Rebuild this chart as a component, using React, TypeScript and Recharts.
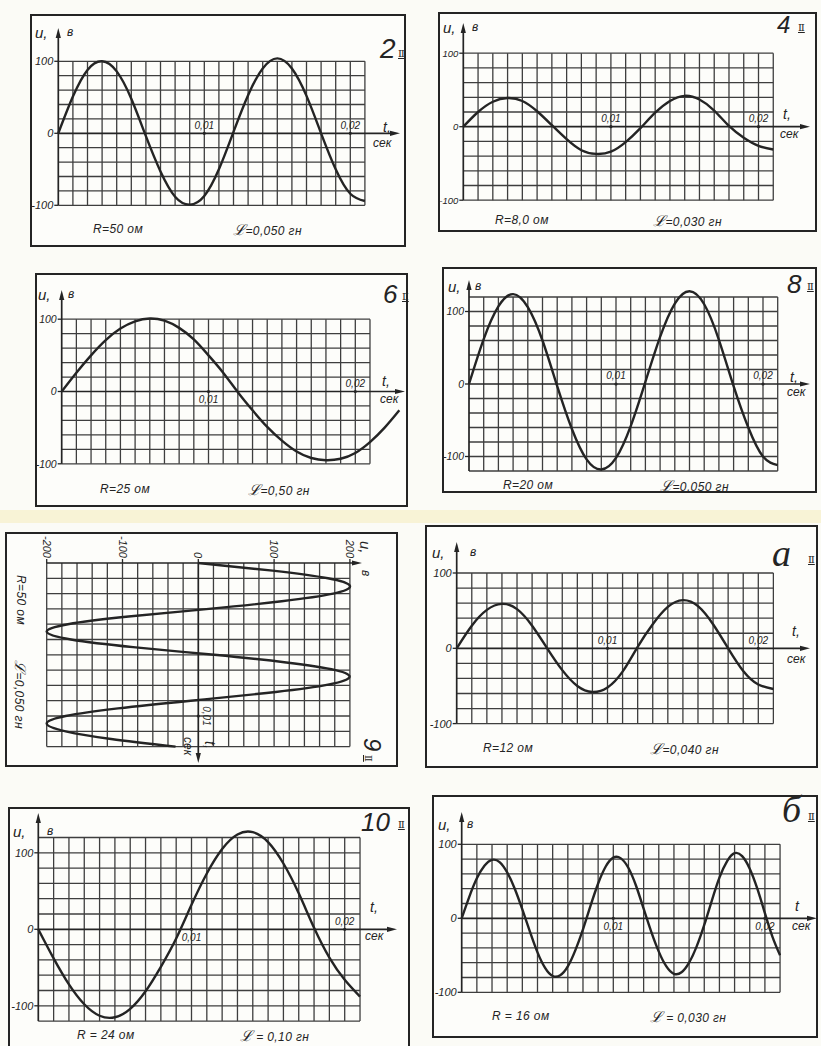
import { LineChart, Line, XAxis, YAxis, ReferenceLine, ReferenceDot } from "recharts";

const INK = "#242424";
const GRID = "#3e3e3e";
const SANS = "'Liberation Sans', 'DejaVu Sans', Arial, sans-serif";
const SERIF = "'Liberation Serif', 'DejaVu Serif', serif";

// time samples (seconds): one per grid column, and half-column samples
const T_MS = [0, 0.001, 0.002, 0.003, 0.004, 0.005, 0.006, 0.007, 0.008, 0.009, 0.01, 0.011, 0.012, 0.013, 0.014, 0.015, 0.016, 0.017, 0.018, 0.019, 0.02, 0.021, 0.022, 0.023];
const T_HALF = [0, 0.0005, 0.001, 0.0015, 0.002, 0.0025, 0.003, 0.0035, 0.004, 0.0045, 0.005, 0.0055, 0.006, 0.0065, 0.007, 0.0075, 0.008, 0.0085, 0.009, 0.0095, 0.01, 0.0105, 0.011, 0.0115, 0.012, 0.0125, 0.013, 0.0135, 0.014, 0.0145, 0.015, 0.0155, 0.016, 0.0165, 0.017, 0.0175, 0.018, 0.0185, 0.019, 0.0195, 0.02, 0.0205, 0.021];

// voltages, volts
const U_2 = [0, 51, 88, 100, 86, 48, -4, -53, -88, -99, -87, -50, 2, 53, 90, 104, 90, 52, 0, -50, -84, -94];
const U_4 = [0, 20, 34, 39, 35, 21, 2, -17, -32, -37, -34, -21, -2, 19, 35, 42, 37, 22, 1, -15, -26, -31];
const U_6 = [0, 26, 50, 71, 87, 97, 101, 98, 88, 72, 50, 26, -1, -26, -49, -68, -83, -92, -95, -93, -85, -70, -50, -26];
const U_8 = [0, 62, 107, 124, 106, 60, -3, -62, -104, -118, -102, -58, 3, 65, 111, 128, 110, 61, -3, -60, -100, -112];
const U_9 = [0, 98, 171, 200, 178, 110, 14, -92, -172, -200, -168, -86, 21, 116, 181, 199, 166, 90, -10, -106, -175, -200, -175, -115, -30];
const U_A = [0, 30, 51, 59, 52, 30, 0, -29, -50, -58, -52, -31, 2, 32, 55, 64, 56, 32, 0, -30, -48, -54];
const U_10 = [0, -38, -72, -98, -113, -115, -104, -81, -49, -12, 32, 73, 105, 124, 127, 114, 86, 47, 2, -37, -66, -88];
const U_B = [0, 29, 54, 71, 79, 76, 62, 40, 12, -18, -46, -67, -78, -77, -65, -43, -15, 17, 47, 70, 82, 81, 68, 44, 13, -18, -45, -65, -75, -73, -60, -38, -9, 24, 55, 77, 88, 84, 67, 40, 7, -25, -50];

const U_TICKS = [-100, 0, 100];
const U_TICKS_9 = [-200, -100, 0, 100, 200];

type Mark = { t: number; s: string; below?: boolean };
type Spec = {
  left: number; top: number; w: number; h: number; rotate?: boolean;
  x0: number; pxPerMs: number; gridMs: number; endPx: number;
  zeroY: number; pxPerV: number; gridTop: number; gridBot: number; arrowTopY: number;
  t: number[]; u: number[]; uTicks: number[]; marks: Mark[]; tickFont?: number;
  title: string; titleAt: [number, number]; titleSize: number; titleFont: string; romanAt: [number, number];
  r: string; l: string; rX: number; lX: number; rlY: number;
  uAt: [number, number]; vAt: [number, number]; tAt: [number, number]; secAt: [number, number]; tText: string;
};

const M1 = { t: 0.01, s: "0,01" };
const M2 = { t: 0.02, s: "0,02" };

const PANELS: Spec[] = [
  {
    left: 30, top: 14, w: 376, h: 233, x0: 28.3, pxPerMs: 14.6, gridMs: 21, endPx: 370,
    zeroY: 119.3, pxPerV: 0.72, gridTop: 100, gridBot: -100, arrowTopY: 14,
    t: T_MS, u: U_2, uTicks: U_TICKS, marks: [M1, M2],
    title: "2", titleAt: [350, 36], titleSize: 28, titleFont: SANS, romanAt: [368, 40],
    r: "R=50 ом", l: "=0,050 гн", rX: 63, lX: 203, rlY: 216,
    uAt: [5, 19], vAt: [37, 19], tAt: [353, 114], secAt: [343, 130], tText: "t,",
  },
  {
    left: 438, top: 12, w: 379, h: 220, x0: 25.3, pxPerMs: 14.76, gridMs: 21, endPx: 372,
    zeroY: 114.7, pxPerV: 0.735, gridTop: 100, gridBot: -100, arrowTopY: 11, tickFont: 9.5,
    t: T_MS, u: U_4, uTicks: U_TICKS, marks: [M1, M2],
    title: "4", titleAt: [339, 14], titleSize: 24, titleFont: SANS, romanAt: [360, 16],
    r: "R=8,0 ом", l: "=0,030 гн", rX: 57, lX: 215, rlY: 209,
    uAt: [5, 16], vAt: [34, 16], tAt: [345, 103], secAt: [342, 123], tText: "t,",
  },
  {
    left: 35, top: 273, w: 373, h: 234, x0: 26.7, pxPerMs: 14.68, gridMs: 21, endPx: 370,
    zeroY: 118.5, pxPerV: 0.723, gridTop: 100, gridBot: -100, arrowTopY: 17, tickFont: 10.5,
    t: T_MS, u: U_6, uTicks: U_TICKS, marks: [{ ...M1, below: true }, M2],
    title: "6", titleAt: [348, 22], titleSize: 26, titleFont: SANS, romanAt: [367, 24],
    r: "R=25 ом", l: "=0,50 гн", rX: 65, lX: 213, rlY: 217,
    uAt: [3, 22], vAt: [33, 22], tAt: [347, 109], secAt: [345, 127], tText: "t,",
  },
  {
    left: 442, top: 267, w: 375, h: 226, x0: 27, pxPerMs: 14.7, gridMs: 21, endPx: 368,
    zeroY: 117, pxPerV: 0.725, gridTop: 120, gridBot: -120, arrowTopY: 13, tickFont: 10.5,
    t: T_MS, u: U_8, uTicks: U_TICKS, marks: [M1, M2],
    title: "8", titleAt: [345, 18], titleSize: 26, titleFont: SANS, romanAt: [365, 20],
    r: "R=20 ом", l: "=0,050 гн", rX: 61, lX: 218, rlY: 219,
    uAt: [6, 20], vAt: [33, 20], tAt: [348, 111], secAt: [345, 126], tText: "t,",
  },
  {
    left: 84, top: 453, w: 235, h: 393, rotate: true, x0: 31, pxPerMs: 15.3, gridMs: 12, endPx: 231,
    zeroY: 199.7, pxPerV: 0.758, gridTop: 200, gridBot: -200, arrowTopY: 36,
    t: T_HALF, u: U_9, uTicks: U_TICKS_9, marks: [M1],
    title: "9", titleAt: [206, 27], titleSize: 24, titleFont: SANS, romanAt: [223, 30],
    r: "R=50 ом", l: "=0,050 гн", rX: 43, lX: 128, rlY: 378,
    uAt: [9, 33], vAt: [38, 33], tAt: [209, 189], secAt: [205, 211], tText: "t,",
  },
  {
    left: 425, top: 525, w: 393, h: 243, x0: 31.7, pxPerMs: 15.08, gridMs: 21, endPx: 385,
    zeroY: 123.3, pxPerV: 0.753, gridTop: 100, gridBot: -100, arrowTopY: 17,
    t: T_MS, u: U_A, uTicks: U_TICKS, marks: [M1, M2],
    title: "а", titleAt: [347, 30], titleSize: 38, titleFont: SERIF, romanAt: [383, 35],
    r: "R=12 ом", l: "=0,040 гн", rX: 58, lX: 225, rlY: 224,
    uAt: [7, 28], vAt: [45, 28], tAt: [367, 107], secAt: [362, 135], tText: "t,",
  },
  {
    left: 8, top: 807, w: 402, h: 241, x0: 30.3, pxPerMs: 15.32, gridMs: 21, endPx: 389,
    zeroY: 122.3, pxPerV: 0.765, gridTop: 120, gridBot: -120, arrowTopY: 6,
    t: T_MS, u: U_10, uTicks: U_TICKS, marks: [{ ...M1, below: true }, M2],
    title: "10", titleAt: [353, 16], titleSize: 26, titleFont: SANS, romanAt: [390, 18],
    r: "R = 24 ом", l: " = 0,10 гн", rX: 69, lX: 232, rlY: 229,
    uAt: [5, 25], vAt: [39, 25], tAt: [362, 101], secAt: [357, 130], tText: "t,",
  },
  {
    left: 432, top: 795, w: 386, h: 243, x0: 29.7, pxPerMs: 15.16, gridMs: 21, endPx: 385,
    zeroY: 123.3, pxPerV: 0.74, gridTop: 100, gridBot: -100, arrowTopY: 17,
    t: T_HALF, u: U_B, uTicks: U_TICKS, marks: [{ ...M1, below: true }, { ...M2, below: true }],
    title: "б", titleAt: [350, 16], titleSize: 38, titleFont: SERIF, romanAt: [376, 22],
    r: "R = 16 ом", l: " = 0,030 гн", rX: 60, lX: 218, rlY: 222,
    uAt: [6, 30], vAt: [35, 30], tAt: [363, 112], secAt: [360, 132], tText: "t",
  },
];

const Arrow = (p: any) => {
  const { x1, y1, x2, y2 } = p;
  const dx = x2 - x1;
  const dy = y2 - y1;
  const len = Math.hypot(dx, dy) || 1;
  const ux = dx / len;
  const uy = dy / len;
  const bx = x2 - ux * 10;
  const by = y2 - uy * 10;
  return (
    <g>
      <line x1={x1} y1={y1} x2={bx} y2={by} stroke={INK} strokeWidth={1.7} />
      <path d={`M${x2},${y2} L${bx - uy * 2.6},${by + ux * 2.6} L${bx + uy * 2.6},${by - ux * 2.6} Z`} fill={INK} />
    </g>
  );
};

const Lab = ({ children, at, size, font = SANS, style }: { children: any; at: [number, number]; size: number; font?: string; style?: any }) => (
  <div
    style={{
      position: "absolute", left: at[0], top: at[1] - size * 0.55, fontSize: size, lineHeight: 1,
      fontFamily: font, fontStyle: "italic", color: INK, whiteSpace: "nowrap", ...style,
    }}
  >
    {children}
  </div>
);

function Panel({ p }: { p: Spec }) {
  const pad = 6;
  const uMax = (p.zeroY - p.arrowTopY) / p.pxPerV;
  const bottomPx = p.zeroY - p.gridBot * p.pxPerV + pad;
  const uMin = -(bottomPx - p.zeroY) / p.pxPerV;
  const tMax = (p.endPx - p.x0) / p.pxPerMs / 1000;
  const gridEnd = p.gridMs / 1000;
  const data = p.u.map((u, i) => ({ t: p.t[i], u }));

  const cols: number[] = [];
  for (let k = 1; k <= p.gridMs; k++) cols.push(k / 1000);
  const rows: number[] = [];
  for (let v = p.gridBot; v <= p.gridTop + 0.01; v += 20) if (v !== 0) rows.push(v);

  return (
    <div
      style={{
        position: "absolute", left: p.left, top: p.top, width: p.w, height: p.h,
        background: "#fdfdfa", transform: p.rotate ? "rotate(90deg)" : undefined,
      }}
    >
      <LineChart width={p.w} height={p.h} data={data} margin={{ top: p.arrowTopY, right: p.w - p.endPx, bottom: p.h - bottomPx, left: 0 }}>
        <XAxis dataKey="t" type="number" domain={[0, tMax]} hide />
        <YAxis
          type="number"
          domain={[uMin, uMax]}
          ticks={p.uTicks}
          interval={0}
          width={p.x0}
          axisLine={false}
          tickSize={4}
          tickMargin={1}
          tickLine={{ stroke: INK, strokeWidth: 1.3 }}
          tick={{ fontSize: p.tickFont ?? 11, fontStyle: "italic", fill: INK, fontFamily: SANS }}
        />
        {rows.map((v) => (
          <ReferenceLine key={"r" + v} segment={[{ x: 0, y: v }, { x: gridEnd, y: v }]} stroke={GRID} strokeWidth={1.3} ifOverflow="visible" />
        ))}
        {cols.map((t) => (
          <ReferenceLine key={"c" + t} segment={[{ x: t, y: p.gridBot }, { x: t, y: p.gridTop }]} stroke={GRID} strokeWidth={1.3} ifOverflow="visible" />
        ))}
        <ReferenceLine segment={[{ x: 0, y: 0 }, { x: tMax, y: 0 }]} shape={Arrow} ifOverflow="visible" />
        <ReferenceLine segment={[{ x: 0, y: p.gridBot }, { x: 0, y: uMax }]} shape={Arrow} ifOverflow="visible" />
        {p.marks.map((m) => (
          <ReferenceDot
            key={m.s}
            x={m.t}
            y={0}
            r={1.6}
            fill={INK}
            stroke="none"
            ifOverflow="visible"
            label={{ value: m.s, position: m.below ? "bottom" : "top", offset: 3, fontSize: 10, fontStyle: "italic", fill: INK, fontFamily: SANS }}
          />
        ))}
        <Line type="natural" dataKey="u" stroke={INK} strokeWidth={2.4} dot={false} isAnimationActive={false} />
      </LineChart>
      <div style={{ position: "absolute", inset: 0, border: `2px solid ${INK}`, boxSizing: "border-box", pointerEvents: "none" }} />
      <Lab at={p.uAt} size={15}>u,</Lab>
      <Lab at={p.vAt} size={12}>в</Lab>
      <Lab at={p.tAt} size={14}>{p.tText}</Lab>
      <Lab at={p.secAt} size={12}>сек</Lab>
      <Lab at={p.titleAt} size={p.titleSize} font={p.titleFont}>{p.title}</Lab>
      <Lab at={p.romanAt} size={10} font={SERIF} style={{ fontStyle: "normal", textDecoration: "underline" }}>Ⅱ</Lab>
      <Lab at={[p.rX, p.rlY]} size={12} style={{ letterSpacing: 0.4 }}>{p.r}</Lab>
      <Lab at={[p.lX, p.rlY]} size={12} style={{ letterSpacing: 0.4 }}>
        <span style={{ fontFamily: "'DejaVu Serif', serif", fontSize: 15 }}>ℒ</span>
        {p.l}
      </Lab>
    </div>
  );
}

export default function App() {
  return (
    <div style={{ position: "absolute", left: 0, top: 0, width: 821, height: 1046, background: "#fbfbf6", overflow: "hidden" }}>
      <div style={{ position: "absolute", left: 0, top: 510, width: 821, height: 13, background: "#f8f3d6" }} />
      {PANELS.map((p, i) => (
        <Panel key={i} p={p} />
      ))}
    </div>
  );
}
